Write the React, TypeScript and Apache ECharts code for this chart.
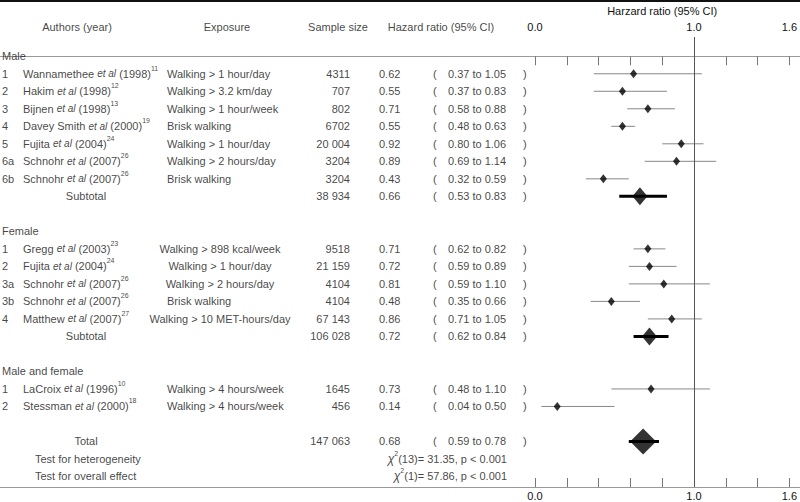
import React, { useEffect, useRef } from "react";
import * as echarts from "echarts";

// ---------- data ----------
const groupNames = ["Male", "Female", "Male and female"];
const studyGroup = [0, 0, 0, 0, 0, 0, 0, 1, 1, 1, 1, 1, 2, 2];
const studyIds = ["1", "2", "3", "4", "5", "6a", "6b", "1", "2", "3a", "3b", "4", "1", "2"];
const studyAuthors = ["Wannamethee", "Hakim", "Bijnen", "Davey Smith", "Fujita", "Schnohr", "Schnohr", "Gregg", "Fujita", "Schnohr", "Schnohr", "Matthew", "LaCroix", "Stessman"];
const studyYears = ["1998", "1998", "1998", "2000", "2004", "2007", "2007", "2003", "2004", "2007", "2007", "2007", "1996", "2000"];
const studyRefs = ["11", "12", "13", "19", "24", "26", "26", "23", "24", "26", "26", "27", "10", "18"];
const studyExposures = [
  "Walking > 1 hour/day", "Walking > 3.2 km/day", "Walking > 1 hour/week", "Brisk walking",
  "Walking > 1 hour/day", "Walking > 2 hours/day", "Brisk walking",
  "Walking > 898 kcal/week", "Walking > 1 hour/day", "Walking > 2 hours/day", "Brisk walking",
  "Walking > 10 MET-hours/day", "Walking > 4 hours/week", "Walking > 4 hours/week",
];
const studySizes = ["4311", "707", "802", "6702", "20 004", "3204", "3204", "9518", "21 159", "4104", "4104", "67 143", "1645", "456"];
const studyHR = [0.62, 0.55, 0.71, 0.55, 0.92, 0.89, 0.43, 0.71, 0.72, 0.81, 0.48, 0.86, 0.73, 0.14];
const studyLower = [0.37, 0.37, 0.58, 0.48, 0.8, 0.69, 0.32, 0.62, 0.59, 0.59, 0.35, 0.71, 0.48, 0.04];
const studyUpper = [1.05, 0.83, 0.88, 0.63, 1.06, 1.14, 0.59, 0.82, 0.89, 1.1, 0.66, 1.05, 1.1, 0.5];

const pooledLabels = ["Subtotal", "Subtotal", "Total"];
const pooledSizes = ["38 934", "106 028", "147 063"];
const pooledHR = [0.66, 0.72, 0.68];
const pooledLower = [0.53, 0.62, 0.59];
const pooledUpper = [0.83, 0.84, 0.78];

const testLabels = ["Test for heterogeneity", "Test for overall effect"];
const testDf = ["13", "1"];
const testChi = ["31.35", "57.86"];
const testP = ["p < 0.001", "p < 0.001"];

const headerLabels = ["Authors (year)", "Exposure", "Sample size", "Hazard ratio (95% CI)"];
const axisTitle = "Harzard ratio (95% CI)";
const axisShownTicks = [0, 1, 1.6];

// ---------- layout ----------
const FONT = "'Liberation Sans', Arial, sans-serif";
const TXT = "#111";
const MARK = "#000";
const GRID_TOP = 37;
const GRID_BOTTOM = 15;
const Y_MIN = -1.1;
const Y_MAX = 24.6;
const HEADER_ROW = -1.67;

const COL = {
  id: 2, author: 23, exposure: 167, exposureCenter: 220, size: 350, hr: 379,
  open: 433, ci: 448, close: 523, chiRight: 507, pooled: 86, test: 35,
  headers: [77, 227, 338, 441],
};

// rows
const headerRows: number[] = [];
const studyRows: number[] = [];
const pooledRows: number[] = [];
let r = 0;
groupNames.forEach((_, g) => {
  headerRows.push(r++);
  studyGroup.forEach((sg, i) => {
    if (sg === g) studyRows[i] = r++;
  });
  if (g < 2) {
    pooledRows.push(r++);
    r++;
  }
});
r++;
pooledRows.push(r++);
const testRows = [r, r + 1];

type TItem = { value: [number, number]; t: string; label: any };
const txt = (x: number, row: number, t: string, align = "left"): TItem => ({
  value: [x, row],
  t,
  label: { align },
});

function buildTextItems(): TItem[] {
  const items: TItem[] = [];
  headerLabels.forEach((h, i) => items.push(txt(COL.headers[i], HEADER_ROW, h, "center")));
  groupNames.forEach((g, i) => items.push(txt(COL.id, headerRows[i], g)));
  studyIds.forEach((id, i) => {
    const row = studyRows[i];
    items.push(txt(COL.id, row, id));
    items.push(
      txt(COL.author, row, `{n|${studyAuthors[i]} }{i|et al}{n| (${studyYears[i]})}{s|${studyRefs[i]}}`)
    );
    const centered = studyGroup[i] === 1 && studyExposures[i] !== "Brisk walking";
    items.push(
      txt(centered ? COL.exposureCenter : COL.exposure, row, studyExposures[i], centered ? "center" : "left")
    );
    items.push(txt(COL.size, row, studySizes[i], "right"));
    items.push(txt(COL.hr, row, studyHR[i].toFixed(2)));
    items.push(txt(COL.open, row, "("));
    items.push(txt(COL.ci, row, `${studyLower[i].toFixed(2)} to ${studyUpper[i].toFixed(2)}`));
    items.push(txt(COL.close, row, ")"));
  });
  pooledLabels.forEach((p, i) => {
    const row = pooledRows[i];
    items.push(txt(COL.pooled, row, p, "center"));
    items.push(txt(COL.size, row, pooledSizes[i], "right"));
    items.push(txt(COL.hr, row, pooledHR[i].toFixed(2)));
    items.push(txt(COL.open, row, "("));
    items.push(txt(COL.ci, row, `${pooledLower[i].toFixed(2)} to ${pooledUpper[i].toFixed(2)}`));
    items.push(txt(COL.close, row, ")"));
  });
  testLabels.forEach((l, i) => {
    const row = testRows[i];
    items.push(txt(COL.test, row, l));
    items.push(txt(COL.chiRight, row, `{c|χ}{s|2}{n|(${testDf[i]})= ${testChi[i]}, ${testP[i]}}`, "right"));
  });
  return items;
}

export default function App() {
  const ref = useRef<HTMLDivElement>(null);
  useEffect(() => {
    if (!ref.current) return;
    const chart = echarts.init(ref.current, undefined, { renderer: "svg" });
    const plotAxis = (pos: "top" | "bottom", extra: any) => ({
      type: "value",
      gridIndex: 1,
      position: pos,
      min: 0,
      max: 1.6,
      interval: 0.2,
      axisLine: { show: false },
      splitLine: { show: false },
      axisTick: { show: true, inside: true, length: 9, lineStyle: { color: "#777", width: 1 } },
      axisLabel: {
        show: true,
        showMinLabel: true,
        showMaxLabel: true,
        color: TXT,
        fontFamily: FONT,
        fontSize: 11,
        formatter: (v: number) =>
          axisShownTicks.some((t) => Math.abs(t - v) < 1e-6) ? v.toFixed(1) : "",
        ...extra.axisLabel,
      },
      ...extra.rest,
    });
    const option: any = {
      animation: false,
      backgroundColor: "#fff",
      textStyle: { fontFamily: FONT },
      graphic: [
        { type: "rect", left: 0, top: 0, shape: { width: 800, height: 2 }, style: { fill: "#111" } },
      ],
      grid: [
        { left: 0, right: 0, top: GRID_TOP, bottom: GRID_BOTTOM },
        { left: 535, right: 7, top: GRID_TOP, bottom: GRID_BOTTOM },
      ],
      xAxis: [
        {
          type: "value", gridIndex: 0, position: "top", min: 0, max: 800,
          axisLine: { show: true, lineStyle: { color: "#999", width: 1 } },
          axisTick: { show: false }, axisLabel: { show: false }, splitLine: { show: false },
        },
        {
          type: "value", gridIndex: 0, position: "bottom", min: 0, max: 800,
          axisLine: { show: true, lineStyle: { color: "#999", width: 1 } },
          axisTick: { show: false }, axisLabel: { show: false }, splitLine: { show: false },
        },
        plotAxis("top", {
          axisLabel: { margin: 5 },
          rest: {
            name: axisTitle,
            nameLocation: "middle",
            nameGap: 17,
            nameTextStyle: { color: TXT, fontFamily: FONT, fontSize: 11 },
          },
        }),
        plotAxis("bottom", { axisLabel: { margin: 3 }, rest: {} }),
      ],
      yAxis: [
        { type: "value", gridIndex: 0, inverse: true, min: Y_MIN, max: Y_MAX, show: false },
        { type: "value", gridIndex: 1, inverse: true, min: Y_MIN, max: Y_MAX, show: false },
      ],
      series: [
        {
          type: "scatter",
          xAxisIndex: 0,
          yAxisIndex: 0,
          symbolSize: 0,
          clip: false,
          silent: true,
          data: buildTextItems(),
          label: {
            show: true,
            position: [0, 0],
            verticalAlign: "middle",
            color: TXT,
            fontFamily: FONT,
            fontSize: 11,
            formatter: (p: any) => p.data.t,
            rich: {
              n: { fontSize: 11, fontFamily: FONT, color: TXT, lineHeight: 18 },
              i: { fontSize: 10, fontFamily: FONT, color: TXT, fontStyle: "italic", lineHeight: 18 },
              s: { fontSize: 7, fontFamily: FONT, color: TXT, lineHeight: 8, verticalAlign: "top" },
              c: { fontSize: 12, fontFamily: FONT, color: TXT, fontStyle: "italic", lineHeight: 18 },
            },
          },
        },
        {
          type: "custom",
          xAxisIndex: 2,
          yAxisIndex: 1,
          silent: true,
          clip: false,
          encode: { x: [0, 2], y: 1 },
          data: studyHR.map((_, i) => [studyLower[i], studyRows[i], studyUpper[i]]),
          renderItem: (params: any, api: any) => {
            const y = api.value(1);
            const a = api.coord([api.value(0), y]);
            const b = api.coord([api.value(2), y]);
            return {
              type: "line",
              shape: { x1: a[0], y1: a[1], x2: b[0], y2: b[1] },
              style: { stroke: "#888", lineWidth: 1 },
            };
          },
        },
        {
          type: "custom",
          xAxisIndex: 2,
          yAxisIndex: 1,
          silent: true,
          clip: false,
          encode: { x: [0, 2], y: 1 },
          data: pooledHR.map((_, i) => [pooledLower[i], pooledRows[i], pooledUpper[i]]),
          renderItem: (params: any, api: any) => {
            const y = api.value(1);
            const a = api.coord([api.value(0), y]);
            const b = api.coord([api.value(2), y]);
            return {
              type: "line",
              shape: { x1: a[0], y1: a[1], x2: b[0], y2: b[1] },
              style: { stroke: MARK, lineWidth: 3 },
            };
          },
        },
        {
          type: "scatter",
          xAxisIndex: 2,
          yAxisIndex: 1,
          silent: true,
          symbol: "diamond",
          symbolSize: [7, 9],
          itemStyle: { color: MARK },
          data: studyHR.map((v, i) => [v, studyRows[i]]),
          markLine: {
            silent: true,
            symbol: ["none", "none"],
            label: { show: false },
            lineStyle: { color: "#555", width: 1, type: "solid" },
            data: [{ xAxis: 1 }],
          },
        },
        {
          type: "scatter",
          xAxisIndex: 2,
          yAxisIndex: 1,
          silent: true,
          symbol: "diamond",
          itemStyle: { color: MARK },
          data: pooledHR.map((v, i) => ({
            value: [v, pooledRows[i]],
            symbolSize: i === pooledHR.length - 1 ? [26, 26] : [15, 18],
          })),
        },
      ],
    };
    chart.setOption(option);
    return () => chart.dispose();
  }, []);
  return (
    <div
      ref={ref}
      style={{ position: "absolute", left: 0, top: 0, width: 800, height: 502, background: "#fff" }}
    />
  );
}
